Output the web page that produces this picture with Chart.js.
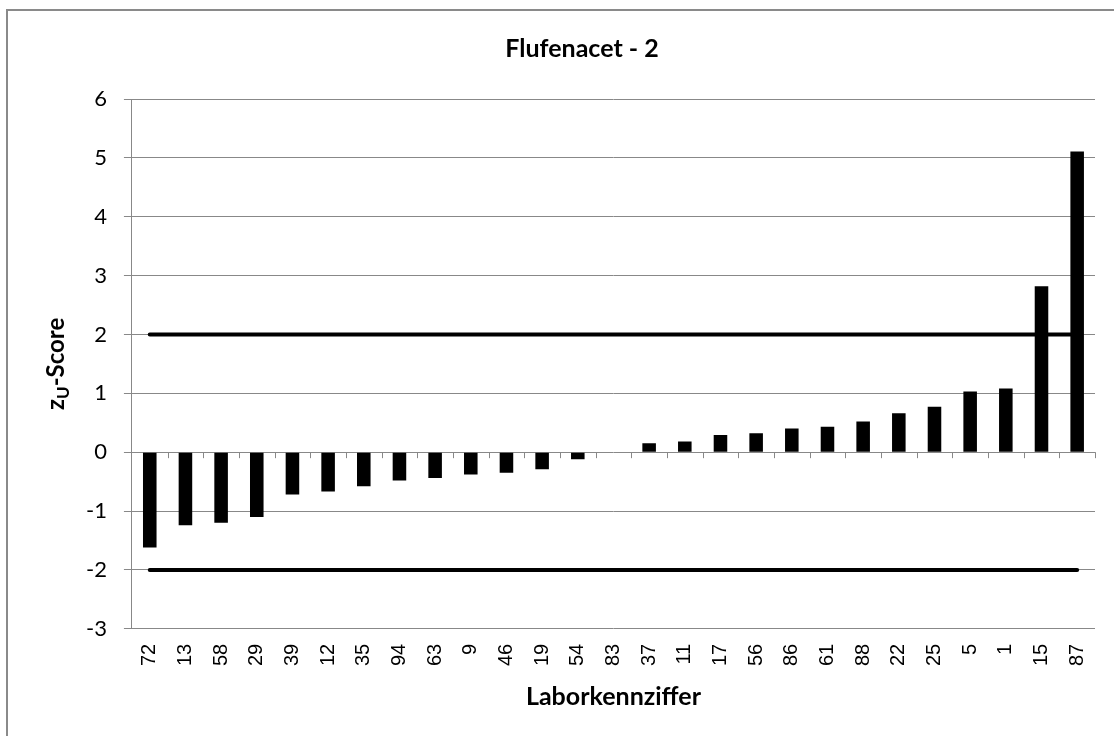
<!DOCTYPE html>
<html>
<head>
<meta charset="utf-8">
<script src="https://cdn.jsdelivr.net/npm/chart.js@4/dist/chart.umd.min.js"></script>
<style>
    body { margin: 0; background: #fff; }
    #frame {
        position: absolute; left: 6px; top: 9px; width: 1200px; height: 800px;
        border-left: 2px solid #8a8a8a; border-top: 2px solid #8a8a8a;
    }
    #wrap { position: absolute; left: 0; top: 0; width: 1114px; height: 736px; }
</style>
</head>
<body>
<div id="frame"></div>
<div id="wrap"><canvas id="zChart"></canvas></div>
<script>
// Lab codes along the x axis
const labCodes = ['72', '13', '58', '29', '39', '12', '35', '94', '63', '9', '46', '19', '54', '83',
    '37', '11', '17', '56', '86', '61', '88', '22', '25', '5', '1', '15', '87'];

// zU-scores per lab
const zScores = [-1.62, -1.24, -1.20, -1.10, -0.72, -0.67, -0.58, -0.48, -0.44, -0.38, -0.35, -0.29, -0.12, 0,
    0.15, 0.18, 0.29, 0.32, 0.40, 0.43, 0.52, 0.66, 0.77, 1.03, 1.08, 2.82, 5.11];

// Limits at +2 / -2
const upperLimit = [2, 2, 2, 2, 2, 2, 2, 2, 2, 2, 2, 2, 2, 2, 2, 2, 2, 2, 2, 2, 2, 2, 2, 2, 2, 2, 2];
const lowerLimit = [-2, -2, -2, -2, -2, -2, -2, -2, -2, -2, -2, -2, -2, -2, -2, -2, -2, -2, -2, -2, -2, -2, -2, -2, -2, -2, -2];

const yMin = -3;
const yMax = 6;

const gridGray = '#888888';

// y axis title with subscript U
const yTitlePlugin = {
    id: 'yTitle',
    afterDraw(chart) {
        const ctx = chart.ctx;
        const area = chart.chartArea;
        const big = 'bold 24px Lato';
        const small = 'bold 17px Lato';
        ctx.save();
        ctx.translate(56, (area.top + area.bottom) / 2);
        ctx.rotate(-Math.PI / 2);
        ctx.fillStyle = '#000';
        ctx.textBaseline = 'middle';
        ctx.font = big;
        const wz = ctx.measureText('z').width;
        const ws = ctx.measureText('-Score').width;
        ctx.font = small;
        const wu = ctx.measureText('U').width;
        let x = -(wz + wu + ws) / 2;
        ctx.font = big;
        ctx.fillText('z', x, 0);
        x += wz;
        ctx.font = small;
        ctx.fillText('U', x, 8);
        x += wu;
        ctx.font = big;
        ctx.fillText('-Score', x, 0);
        ctx.restore();
    }
};

// tick marks on the zero line between categories
const zeroTicksPlugin = {
    id: 'zeroTicks',
    beforeDatasetsDraw(chart) {
        const ctx = chart.ctx;
        const xs = chart.scales.x;
        const y0 = chart.scales.y.getPixelForValue(0);
        ctx.save();
        ctx.strokeStyle = gridGray;
        ctx.lineWidth = 1;
        for (let i = 1; i <= labCodes.length; i++) {
            let px;
            if (i === labCodes.length) px = chart.chartArea.right;
            else px = (xs.getPixelForValue(i - 1) + xs.getPixelForValue(i)) / 2;
            px = Math.round(px) + 0.5;
            ctx.beginPath();
            ctx.moveTo(px, y0);
            ctx.lineTo(px, y0 + 6);
            ctx.stroke();
        }
        ctx.restore();
    }
};

const ctx = document.getElementById('zChart').getContext('2d');
const zChart = new Chart(ctx, {
    type: 'bar',
    data: {
        labels: labCodes,
        datasets: [
            {
                type: 'line',
                data: upperLimit,
                borderColor: '#000',
                borderWidth: 4,
                borderCapStyle: 'round',
                pointRadius: 0,
                order: 0
            },
            {
                type: 'line',
                data: lowerLimit,
                borderColor: '#000',
                borderWidth: 4,
                borderCapStyle: 'round',
                pointRadius: 0,
                order: 0
            },
            {
                data: zScores,
                backgroundColor: '#000',
                barPercentage: 0.38,
                categoryPercentage: 1,
                order: 1
            }
        ]
    },
    options: {
        responsive: true,
        maintainAspectRatio: false,
        animation: false,
        layout: {
            padding: { left: 69, right: 19, top: 0, bottom: 24 }
        },
        plugins: {
            legend: { display: false },
            tooltip: { enabled: false },
            title: {
                display: true,
                text: 'Flufenacet - 2',
                color: '#000',
                font: { family: 'Lato', size: 25, weight: 'bold' },
                padding: { top: 34, bottom: 35 }
            }
        },
        scales: {
            x: {
                grid: { display: false },
                border: { display: false },
                ticks: {
                    color: '#000',
                    font: { family: 'Liberation Sans', size: 20 },
                    minRotation: 90,
                    maxRotation: 90,
                    autoSkip: false,
                    padding: 7
                },
                title: {
                    display: true,
                    text: 'Laborkennziffer',
                    color: '#000',
                    font: { family: 'Lato', size: 25, weight: 'bold' },
                    padding: { top: 9, bottom: 0 }
                }
            },
            y: {
                min: yMin,
                max: yMax,
                grid: { color: gridGray, lineWidth: 1, tickLength: 8, tickColor: gridGray },
                border: { display: true, color: gridGray, width: 1 },
                ticks: {
                    stepSize: 1,
                    color: '#000',
                    font: { family: 'Lato', size: 22 },
                    padding: 17
                }
            }
        }
    },
    plugins: [yTitlePlugin, zeroTicksPlugin]
});
</script>
</body>
</html>
